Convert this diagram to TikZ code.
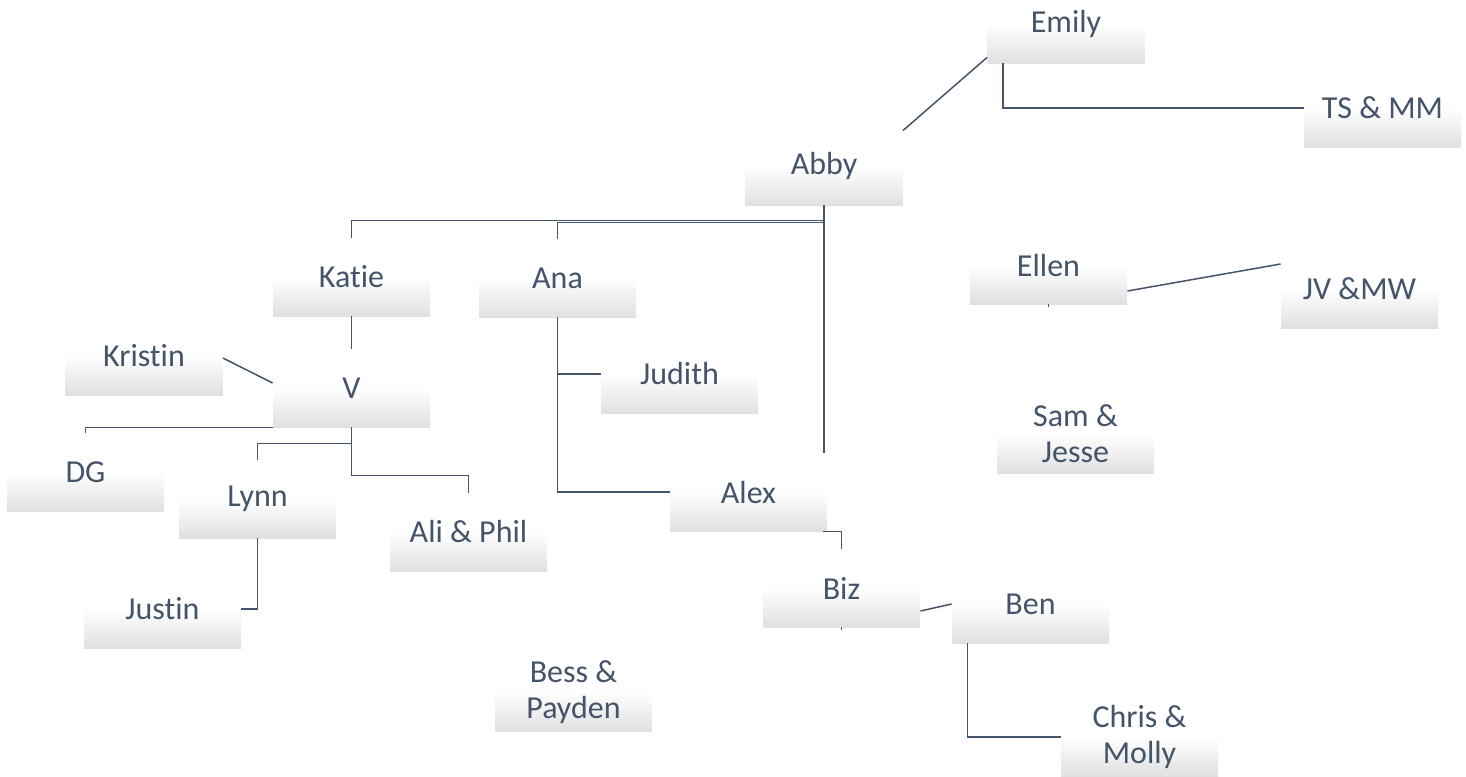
\documentclass[tikz,border=0pt]{standalone}
\usepackage{fontspec}
\setmainfont{Carlito}[Ligatures=NoCommon]
\usetikzlibrary{calc}
\definecolor{ink}{HTML}{44546A}
\definecolor{fadegray}{HTML}{E0E0E0}
\pgfdeclareverticalshading{boxfade}{100bp}{color(0bp)=(fadegray); color(25bp)=(fadegray); color(50bp)=(white); color(100bp)=(white)}
\begin{document}
\begin{tikzpicture}[x=0.5pt,y=-0.5pt,
  person/.style={shading=boxfade, minimum width=78.5pt, minimum height=39pt, inner sep=0pt,
    align=center, text=ink, font=\fontsize{16}{18}\selectfont},
  link/.style={draw=ink, line width=0.75pt}]
\useasboundingbox (0,0) rectangle (1466,776);
% nodes
\node[person] (emily)  at (1066,24)    {Emily};
\node[person] (ts)     at (1382.5,108) {TS \& MM};
\node[person] (abby)   at (824,166)    {Abby};
\node[person] (katie)  at (351.5,277)  {Katie};
\node[person] (ana)    at (557.5,278)  {Ana};
\node[person] (ellen)  at (1048.5,265) {Ellen};
\node[person] (jv)     at (1359.5,289) {JV \&MW};
\node[person] (kristin) at (144,356)   {Kristin};
\node[person] (v)      at (351.5,388)  {V};
\node[person] (judith) at (679.5,374)  {Judith};
\node[person] (sam)    at (1075.5,434) {Sam \&\\Jesse};
\node[person] (dg)     at (85.5,472)   {DG};
\node[person] (lynn)   at (257.5,499)  {Lynn};
\node[person] (ali)    at (468.5,532)  {Ali \& Phil};
\node[person] (alex)   at (748.5,492)  {Alex};
\node[person] (justin) at (162.5,609)  {Justin};
\node[person] (biz)    at (841.5,588)  {Biz};
\node[person] (ben)    at (1030.5,604) {Ben};
\node[person] (bess)   at (573.5,692)  {Bess \&\\Payden};
\node[person] (chris)  at (1139.5,737) {Chris \&\\Molly};
% connectors
\draw[link] ($(abby.north east)+(0,4)$) -- ($(emily.south west)+(0,-6)$);
\draw[link] ($(emily.south west)+(16,0)$) |- (ts.west);
\draw[link] (abby.south) -- (abby.south |- alex.north);
\draw[link] ($(abby.south)+(0,15)$) -| (katie.north);
\draw[link] ($(abby.south)+(0,17)$) -| (ana.north);
\draw[link] (katie.south) -- (v.north);
\draw[link] ($(kristin.east)+(0,2)$) -- ($(v.west)+(0,-5)$);
\draw[link] (v.south west) -| (dg.north);
\draw[link] (v.south) -- ++(0,16) -| (lynn.north);
\draw[link] ($(v.south)+(0,16)$) -- ++(0,32) -| (ali.north);
\draw[link] (lynn.south) |- (justin.east);
\draw[link] (ana.south) |- (judith.west);
\draw[link] (ana.south) |- (alex.west);
\draw[link] ($(alex.south east)+(-4,0)$) -| (biz.north);
\draw[link] ($(biz.east)+(0,23)$) -- (ben.west);
\draw[link] ($(ben.south west)+(16,0)$) |- (chris.west);
\draw[link] ($(ellen.east)+(0,26)$) -- ($(jv.west)+(0,-25)$);
\draw[link] (ellen.south) -- ++(0,3);
\draw[link] (biz.south) -- ++(0,3);
\end{tikzpicture}
\end{document}
